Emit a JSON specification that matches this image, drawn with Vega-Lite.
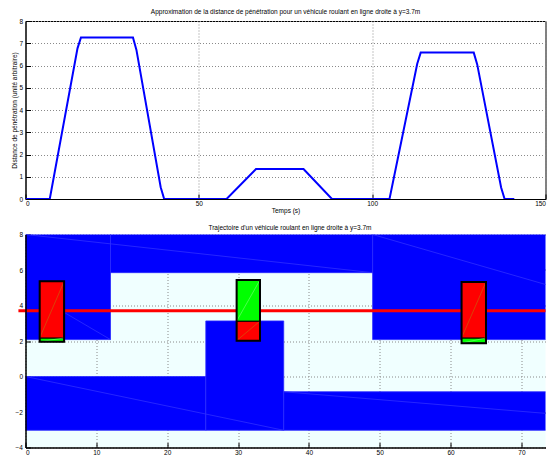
{
  "$schema": "https://vega.github.io/schema/vega-lite/v6.json",
  "autosize": {"type": "pad"},
  "padding": {"left": 10.5, "top": 8, "right": 0, "bottom": 0},
  "spacing": 9.5,
  "background": "white",
  "config": {
    "font": "Liberation Sans",
    "axis": {
      "labelFont": "Liberation Sans", "labelFontSize": 6.5, "labelColor": "#000",
      "titleFont": "Liberation Sans", "titleFontSize": 6.5, "titleFontWeight": "normal", "titleColor": "#000",
      "domainColor": "#000", "tickColor": "#000", "tickSize": -5, "labelPadding": 8,
      "gridColor": "#8a8a8a", "gridDash": [1, 2], "gridOpacity": 1, "gridWidth": 1
    },
    "title": {"font": "Liberation Sans", "fontSize": 6.5, "fontWeight": "normal", "color": "#000"}
  },
  "datasets": {
    "penetration": [
      {"t": 0, "d": 0}, {"t": 7, "d": 0}, {"t": 15, "d": 6.77}, {"t": 16, "d": 7.26}, {"t": 31, "d": 7.26},
      {"t": 32, "d": 6.7}, {"t": 39, "d": 0.53}, {"t": 40, "d": 0}, {"t": 58, "d": 0}, {"t": 66.5, "d": 1.35},
      {"t": 80.2, "d": 1.35}, {"t": 88.4, "d": 0}, {"t": 105, "d": 0}, {"t": 113, "d": 6.08}, {"t": 114, "d": 6.58},
      {"t": 129.3, "d": 6.58}, {"t": 130.3, "d": 6.05}, {"t": 137.2, "d": 0.52}, {"t": 138.2, "d": 0}, {"t": 141, "d": 0}
    ],
    "zones": [
      {"x1": 0, "x2": 12, "y1": 2.08, "y2": 8},
      {"x1": 12, "x2": 49, "y1": 5.85, "y2": 8},
      {"x1": 49, "x2": 75, "y1": 2.08, "y2": 8},
      {"x1": 0, "x2": 25.45, "y1": -3.03, "y2": 0},
      {"x1": 25.45, "x2": 36.45, "y1": -3.03, "y2": 3.13},
      {"x1": 36.45, "x2": 75, "y1": -3.03, "y2": -0.86}
    ],
    "diag": [
      {"x1": 0, "y1": 8, "x2": 49, "y2": 5.85},
      {"x1": 49, "y1": 8, "x2": 75, "y2": 5.0},
      {"x1": 0, "y1": 0, "x2": 36.45, "y2": -3.03},
      {"x1": 36.45, "y1": -0.86, "x2": 75, "y2": -2.13},
      {"x1": 2, "y1": 4.42, "x2": 12, "y2": 2.08}
    ],
    "track": [{"x": -1, "y": 3.7}, {"x": 73.4, "y": 3.7}],
    "parts": [
      {"v": 1, "etat": "libre", "x1": 2.0, "x2": 5.45, "y1": 1.96, "y2": 2.17},
      {"v": 1, "etat": "collision", "x1": 2.0, "x2": 5.45, "y1": 2.17, "y2": 5.36},
      {"v": 2, "etat": "collision", "x1": 29.8, "x2": 33.1, "y1": 2.02, "y2": 3.12},
      {"v": 2, "etat": "libre", "x1": 29.8, "x2": 33.1, "y1": 3.12, "y2": 5.44},
      {"v": 3, "etat": "libre", "x1": 61.55, "x2": 65.0, "y1": 1.88, "y2": 2.17},
      {"v": 3, "etat": "collision", "x1": 61.55, "x2": 65.0, "y1": 2.17, "y2": 5.33}
    ],
    "vehicles": [
      {"v": 1, "x1": 2.0, "x2": 5.45, "y1": 1.96, "y2": 5.36},
      {"v": 2, "x1": 29.8, "x2": 33.1, "y1": 2.02, "y2": 5.44},
      {"v": 3, "x1": 61.55, "x2": 65.0, "y1": 1.88, "y2": 5.33}
    ]
  },
  "vconcat": [
    {
      "width": 520,
      "height": 178,
      "title": {"text": "Approximation de la distance de pénétration pour un véhicule roulant en ligne droite à y=3.7m", "offset": 2.5},
      "view": {"stroke": "#000", "strokeWidth": 1, "fill": "white"},
      "data": {"name": "penetration"},
      "mark": {"type": "line", "color": "#0000ff", "strokeWidth": 2, "clip": true},
      "encoding": {
        "x": {
          "field": "t", "type": "quantitative",
          "scale": {"domain": [0, 150], "nice": false, "zero": false},
          "axis": {"values": [0, 50, 100, 150], "title": "Temps (s)", "titlePadding": 1, "labelPadding": 6, "grid": true}
        },
        "y": {
          "field": "d", "type": "quantitative",
          "scale": {"domain": [0, 8], "nice": false},
          "axis": {"values": [0, 1, 2, 3, 4, 5, 6, 7, 8], "title": "Distance de pénétration (unité arbitraire)", "titlePadding": 1, "grid": true}
        }
      }
    },
    {
      "width": 520,
      "height": 213,
      "title": {"text": "Trajectoire d'un véhicule roulant en ligne droite à y=3.7m", "offset": 0, "dx": 4.5},
      "view": {"stroke": null, "fill": "#f0ffff"},
      "resolve": {"axis": {"x": "independent", "y": "independent"}},
      "encoding": {
        "x": {"field": "x1", "type": "quantitative", "scale": {"domain": [0, 73.4], "nice": false, "zero": false}, "axis": null},
        "y": {"field": "y1", "type": "quantitative", "scale": {"domain": [-4, 8], "nice": false}, "axis": null}
      },
      "layer": [
        {
          "data": {"name": "zones"},
          "mark": {"type": "rect", "color": "#0000ff", "stroke": "#2a2aff", "strokeWidth": 0.8, "clip": true},
          "encoding": {
            "x": {"field": "x1", "type": "quantitative", "scale": {"domain": [0, 73.4], "nice": false, "zero": false},
                  "axis": {"orient": "bottom", "values": [0, 10, 20, 30, 40, 50, 60, 70], "title": null, "grid": true, "domain": false, "labels": false, "ticks": true, "zindex": 0}},
            "y": {"field": "y1", "type": "quantitative", "scale": {"domain": [-4, 8], "nice": false},
                  "axis": {"orient": "left", "values": [-4, -2, 0, 2, 4, 6, 8], "title": null, "grid": true, "domain": false, "labels": false, "ticks": true, "zindex": 0}},
            "x2": {"field": "x2"}, "y2": {"field": "y2"}
          }
        },
        {
          "data": {"name": "diag"},
          "mark": {"type": "rule", "color": "#2e2eff", "strokeWidth": 0.8, "clip": true},
          "encoding": {"x2": {"field": "x2"}, "y2": {"field": "y2"}}
        },
        {
          "data": {"name": "track"},
          "mark": {"type": "line", "color": "#ff0000", "strokeWidth": 3, "clip": false},
          "encoding": {"x": {"field": "x", "type": "quantitative", "axis": null}, "y": {"field": "y", "type": "quantitative", "axis": null}}
        },
        {
          "data": {"name": "parts"},
          "mark": {"type": "rect", "stroke": "#000", "strokeWidth": 1},
          "encoding": {
            "x2": {"field": "x2"}, "y2": {"field": "y2"},
            "fill": {"field": "etat", "type": "nominal", "scale": {"domain": ["libre", "collision"], "range": ["#00ff00", "#ff0000"]}, "legend": null}
          }
        },
        {
          "data": {"name": "parts"},
          "transform": [{"filter": "datum.etat == 'collision'"}],
          "mark": {"type": "rule", "color": "#b08a10", "strokeWidth": 0.6, "opacity": 0.8},
          "encoding": {"x2": {"field": "x2"}, "y2": {"field": "y2"}}
        },
        {
          "data": {"name": "parts"},
          "transform": [{"filter": "datum.etat == 'libre'"}],
          "mark": {"type": "rule", "color": "#9cff9c", "strokeWidth": 0.6, "opacity": 0.8},
          "encoding": {"x2": {"field": "x2"}, "y2": {"field": "y2"}}
        },
        {
          "data": {"name": "vehicles"},
          "mark": {"type": "rect", "fill": null, "stroke": "#000", "strokeWidth": 2},
          "encoding": {
            "x": {"field": "x1", "type": "quantitative", "scale": {"domain": [0, 73.4], "nice": false, "zero": false},
                  "axis": {"orient": "bottom", "values": [0, 10, 20, 30, 40, 50, 60, 70], "title": null, "grid": false, "domain": true, "domainWidth": 1.5, "labels": true, "ticks": false, "labelPadding": 2, "zindex": 1}},
            "y": {"field": "y1", "type": "quantitative", "scale": {"domain": [-4, 8], "nice": false},
                  "axis": {"orient": "left", "values": [-4, -2, 0, 2, 4, 6, 8], "title": null, "grid": false, "domain": true, "domainWidth": 1.5, "labels": true, "ticks": false, "labelPadding": 3, "zindex": 1}},
            "x2": {"field": "x2"}, "y2": {"field": "y2"}
          }
        }
      ]
    }
  ]
}
